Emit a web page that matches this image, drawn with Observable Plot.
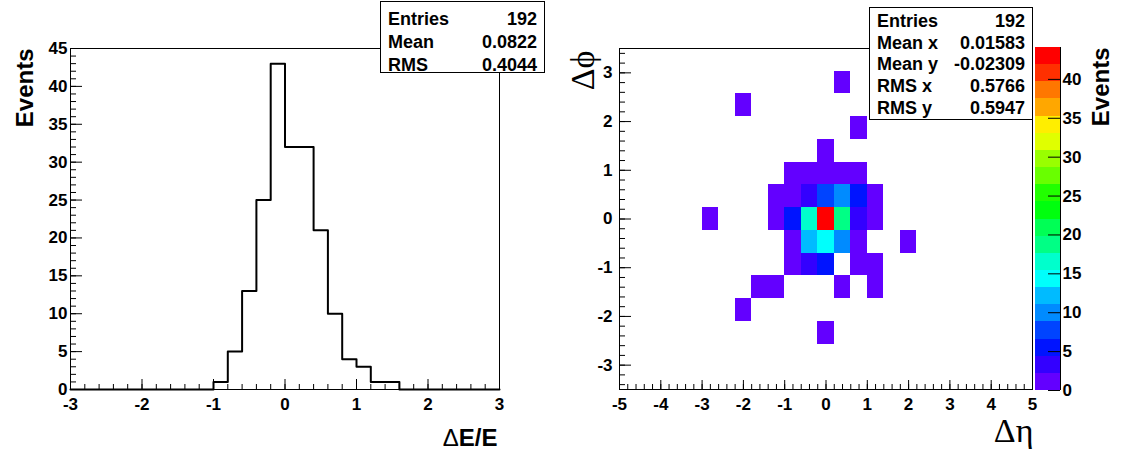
<!DOCTYPE html>
<html><head><meta charset="utf-8">
<script src="https://cdn.jsdelivr.net/npm/d3@7"></script>
<script src="https://cdn.jsdelivr.net/npm/@observablehq/plot@0.6"></script>
<style>
body{margin:0;background:#fff;}
#root{position:relative;width:1126px;height:452px;overflow:hidden;font-family:"Liberation Sans",Arial,sans-serif;background:#fff;}
#root svg{position:absolute;left:0;top:0;}
.stat{position:absolute;background:#fff;border:1px solid #000;box-sizing:border-box;font-weight:bold;font-size:18px;color:#000;}
.stat .row{position:absolute;left:7px;right:7px;display:flex;justify-content:space-between;white-space:nowrap;}
</style></head><body><div id="root"></div>
<script>
// ---------- data: left histogram (ΔE/E) ----------
const deRange = [-3, 3];
const deCounts = [0,0,0,0,0,0,0,0,0,0, 1,5,13,25,43,32,32,21,10,4, 3,1,1,0,0,0,0,0,0,0];
const deTicks = [-3,-2,-1,0,1,2,3];
const eventsTicks = [0,5,10,15,20,25,30,35,40,45];
const eventsMax = 45;
const stat1Labels = ["Entries","Mean","RMS"];
const stat1Values = ["192","0.0822","0.4044"];

// ---------- data: right 2D histogram (Δη, Δφ) ----------
const etaRange = [-5, 5], etaBins = 25;
const phiRange = [-3.5, 3.5], phiBins = 15;
const cellEtaBin = [13, 7,14,12, 10,11,12,13,14, 9,10,11,12,13,14,15, 5,9,10,11,12,13,14,15, 10,11,12,13,14,17, 10,11,12,14,15, 8,9,13,15, 7,12];
const cellPhiBin = [13,12,11,10,  9, 9, 9, 9, 9, 8, 8, 8, 8, 8, 8, 8, 7,7, 7, 7, 7, 7, 7, 7,  6, 6, 6, 6, 6, 6,  5, 5, 5, 5, 5, 4,4, 4, 4, 3, 2];
const cellCount  = [ 1, 1, 1, 1,  1, 2, 2, 1, 1, 1, 2, 4, 8,10, 5, 1, 1,1, 6,17,43,19, 3, 1,  1,12,15,10, 1, 1,  1, 4, 6, 1, 1, 1,1, 1, 1, 1, 1];
const etaTicks = [-5,-4,-3,-2,-1,0,1,2,3,4,5];
const phiTicks = [-3,-2,-1,0,1,2,3];
const zMax = 44.1;
const zTicks = [0,5,10,15,20,25,30,35,40];
const paletteColors = ["#6300ff","#3300ff","#0014ff","#0044ff","#008bff","#00bbff","#00fffc","#00ffcc","#00ff85","#00ff55",
                       "#00ff0e","#22ff00","#69ff00","#99ff00","#e0ff00","#ffee00","#ffa700","#ff7700","#ff3000","#ff0000"];
const stat2Labels = ["Entries","Mean x","Mean y","RMS x","RMS y"];
const stat2Values = ["192","0.01583","-0.02309","0.5766","0.5947"];

// ---------- layout ----------
const W = 1126, H = 452;
const FONT = "Liberation Sans, Arial, Helvetica, sans-serif";
const SERIF = "Liberation Serif, Times New Roman, serif";
const baseStyle = {background:"transparent", fontFamily:FONT, fontWeight:"bold", fontSize:"17px", color:"#000", overflow:"visible"};
const root = document.getElementById("root");

// left panel
{
  const fl = 70, fr = 499, ft = 48, fb = 389;
  const fw = fr - fl, fh = fb - ft;
  const w = (deRange[1]-deRange[0]) / deCounts.length;
  const pts = deCounts.map((c,i)=>({x: deRange[0] + i*w, y: c}));
  pts.push({x: deRange[1], y: deCounts[deCounts.length-1]});
  const minorX = d3.range(deRange[0], deRange[1]+1e-9, 0.2).map(v=>+v.toFixed(3));
  const minorY = d3.range(0, eventsMax+1e-9, 1);
  const p = Plot.plot({
    width: W, height: H,
    marginLeft: fl, marginRight: W-fr, marginTop: ft, marginBottom: H-fb,
    style: baseStyle,
    x: {domain: deRange},
    y: {domain: [0, eventsMax]},
    marks: [
      Plot.line(pts, {x:"x", y:"y", curve:"step-after", stroke:"#000", strokeWidth:2}),
      Plot.tickX(minorX, {x:d=>d, insetTop: fh-5, stroke:"#000"}),
      Plot.tickX(deTicks, {x:d=>d, insetTop: fh-10, stroke:"#000"}),
      Plot.tickY(minorY, {y:d=>d, insetRight: fw-6, stroke:"#000"}),
      Plot.tickY(eventsTicks, {y:d=>d, insetRight: fw-12, stroke:"#000"}),
      Plot.frame({stroke:"#000"}),
      Plot.axisX({ticks: deTicks, tickSize:0, tickPadding:8, tickFormat:d=>String(d), label:null, fontSize:17}),
      Plot.axisY({ticks: eventsTicks, tickSize:0, tickPadding:3, tickFormat:d=>String(d), label:null, fontSize:17}),
      Plot.text(["Events"], {frameAnchor:"top-left", text:d=>d, rotate:-90, textAnchor:"end", lineAnchor:"bottom", dx:-38, dy:0, fontSize:24, fontWeight:"bold"}),
      Plot.text(["ΔE/E"], {frameAnchor:"bottom-right", text:d=>d, textAnchor:"end", lineAnchor:"bottom", dx:-2, dy:56, fontSize:24, fontWeight:"bold"})
    ]
  });
  root.appendChild(p);
  p.querySelectorAll("text").forEach(t=>{
    if (t.textContent === "ΔE/E") {
      t.textContent = "";
      const a = document.createElementNS("http://www.w3.org/2000/svg","tspan");
      a.setAttribute("font-weight","normal"); a.textContent = "Δ";
      const b = document.createElementNS("http://www.w3.org/2000/svg","tspan");
      b.textContent = "E/E";
      t.appendChild(a); t.appendChild(b);
    }
  });
}

// color scale shared
const dz = zMax / paletteColors.length;
const thresholds = d3.range(1, paletteColors.length).map(k=>k*dz);
const colorOpts = {type:"threshold", domain: thresholds, range: paletteColors};

// right panel
{
  const fl = 619, fr = 1032, ft = 48, fb = 389;
  const fw = fr - fl, fh = fb - ft;
  const ew = (etaRange[1]-etaRange[0]) / etaBins;
  const pw = (phiRange[1]-phiRange[0]) / phiBins;
  const cells = cellCount.map((c,i)=>({
    x1: etaRange[0] + cellEtaBin[i]*ew, x2: etaRange[0] + (cellEtaBin[i]+1)*ew,
    y1: phiRange[0] + cellPhiBin[i]*pw, y2: phiRange[0] + (cellPhiBin[i]+1)*pw, v: c
  }));
  const minorX = d3.range(etaRange[0], etaRange[1]+1e-9, 0.2).map(v=>+v.toFixed(3));
  const minorY = d3.range(-3.4, 3.4+1e-9, 0.2).map(v=>+v.toFixed(3));
  const p = Plot.plot({
    width: W, height: H,
    marginLeft: fl, marginRight: W-fr, marginTop: ft, marginBottom: H-fb,
    style: baseStyle,
    x: {domain: etaRange},
    y: {domain: phiRange},
    color: colorOpts,
    marks: [
      Plot.rect(cells, {x1:"x1", x2:"x2", y1:"y1", y2:"y2", fill:"v", shapeRendering:"crispEdges"}),
      Plot.tickX(minorX, {x:d=>d, insetTop: fh-5, stroke:"#000"}),
      Plot.tickX(etaTicks, {x:d=>d, insetTop: fh-9, stroke:"#000"}),
      Plot.tickY(minorY, {y:d=>d, insetRight: fw-6, stroke:"#000"}),
      Plot.tickY(phiTicks, {y:d=>d, insetRight: fw-12, stroke:"#000"}),
      Plot.frame({stroke:"#000"}),
      Plot.axisX({ticks: etaTicks, tickSize:0, tickPadding:8, tickFormat:d=>String(d), label:null, fontSize:17}),
      Plot.axisY({ticks: phiTicks, tickSize:0, tickPadding:7, tickFormat:d=>String(d), label:null, fontSize:17}),
      Plot.text(["Δϕ"], {frameAnchor:"top-left", text:d=>d, rotate:-90, textAnchor:"end", lineAnchor:"bottom", dx:-26, dy:2, fontSize:34, fontWeight:"normal", fontFamily:SERIF}),
      Plot.text(["Δη"], {frameAnchor:"bottom-right", text:d=>d, textAnchor:"end", lineAnchor:"bottom", dx:1, dy:52, fontSize:34, fontWeight:"normal", fontFamily:SERIF})
    ]
  });
  root.appendChild(p);
}

// color bar
{
  const fl = 1035, fr = 1060, ft = 47, fb = 390;
  const bands = paletteColors.map((c,k)=>({y1: k*dz, y2: (k+1)*dz, v: (k+0.5)*dz}));
  const p = Plot.plot({
    width: W, height: H,
    marginLeft: fl, marginRight: W-fr, marginTop: ft, marginBottom: H-fb,
    style: baseStyle,
    x: {domain: [0, 1], axis: null},
    y: {domain: [0, zMax]},
    color: colorOpts,
    marks: [
      Plot.rect(bands, {y1:"y1", y2:"y2", fill:"v", shapeRendering:"crispEdges"}),
      Plot.tickY(zTicks, {y:d=>d, insetLeft: (fr-fl)-12, stroke:"#000"}),
      Plot.ruleX([1], {x:d=>d, stroke:"#000"}),
      Plot.axisY({anchor:"right", ticks: zTicks, tickSize:0, tickPadding:2, tickFormat:d=>String(d), label:null, fontSize:17}),
      Plot.text(["Events"], {frameAnchor:"top-left", text:d=>d, rotate:-90, textAnchor:"end", lineAnchor:"bottom", dx:73, dy:0, fontSize:24, fontWeight:"bold"})
    ]
  });
  root.appendChild(p);
}

// stat boxes
function statBox(labels, values, left, top, width, height, firstRowTop, spacing) {
  const box = document.createElement("div");
  box.className = "stat";
  Object.assign(box.style, {left:left+"px", top:top+"px", width:width+"px", height:height+"px"});
  labels.forEach((lab,i)=>{
    const r = document.createElement("div");
    r.className = "row";
    Object.assign(r.style, {top:(firstRowTop + i*spacing)+"px", height:spacing+"px", lineHeight:spacing+"px"});
    const a = document.createElement("span"); a.textContent = lab;
    const b = document.createElement("span"); b.textContent = values[i];
    r.appendChild(a); r.appendChild(b);
    box.appendChild(r);
  });
  root.appendChild(box);
}
statBox(stat1Labels, stat1Values, 380, 1, 165, 72, 6.4, 22.6);
statBox(stat2Labels, stat2Values, 869, 7, 164, 113, 2.9, 21.65);
</script>
</body></html>
